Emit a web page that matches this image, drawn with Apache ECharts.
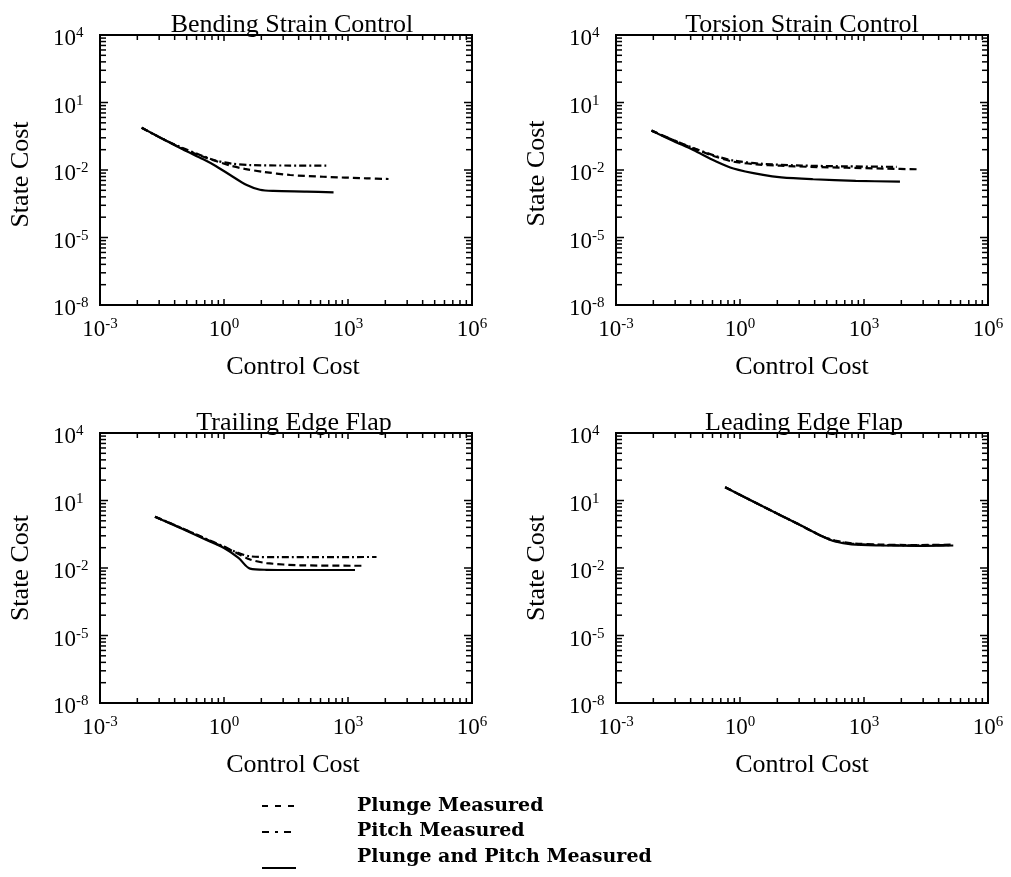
<!DOCTYPE html>
<html><head><meta charset="utf-8">
<script src="https://cdn.jsdelivr.net/npm/echarts@6/dist/echarts.min.js"></script>
<style>html,body{margin:0;padding:0;background:#fff}#c{width:1011px;height:877px}</style>
</head><body><div id="c"></div>
<script>
// ---------------- data ----------------
const panelTitles = ['Bending Strain Control', 'Torsion Strain Control', 'Trailing Edge Flap', 'Leading Edge Flap'];
const seriesNames = ['Plunge Measured', 'Pitch Measured', 'Plunge and Pitch Measured'];
const xAxisName = 'Control Cost';
const yAxisName = 'State Cost';
const xLabelExponents = [-3, 0, 3, 6];
const yLabelExponents = [-8, -5, -2, 1, 4];
// minor ticks: k = 1..9 placed at k^3 inside each 3-decade segment
const tickFactors = [1, 2, 3, 4, 5, 6, 7, 8, 9];

// Bending Strain Control
const bendingPlunge = [[0.0102,0.76],[0.0316,0.25],[0.1,0.089],[0.263,0.0437],[0.631,0.0251],[1.41,0.0158],[3.16,0.0112],[8.91,0.0083],[39.8,0.0060],[251,0.0050],[2818,0.00427],[9550,0.00398]];
const bendingPitch = [[0.0102,0.76],[0.0316,0.25],[0.1,0.0955],[0.263,0.0468],[0.631,0.0263],[1.58,0.0191],[4.27,0.0166],[39.8,0.0158],[316,0.0158]];
const bendingBoth = [[0.0102,0.76],[0.0316,0.25],[0.1,0.083],[0.316,0.030],[0.631,0.0151],[1.41,0.0060],[3.55,0.00214],[7.41,0.00132],[15.8,0.00117],[100,0.0011],[447,0.00102]];

// Torsion Strain Control
const torsionPlunge = [[0.00724,0.562],[0.0251,0.209],[0.0741,0.0912],[0.251,0.0398],[0.692,0.0234],[2.51,0.0178],[9.33,0.0155],[50.1,0.0138],[380,0.0126],[3162,0.0115],[22900,0.0107]];
const torsionPitch = [[0.00724,0.562],[0.0251,0.209],[0.0741,0.0955],[0.251,0.0427],[0.692,0.0263],[3.16,0.0191],[31.6,0.0158],[398,0.0145],[6166,0.0138]];
const torsionBoth = [[0.00724,0.562],[0.0251,0.191],[0.0741,0.0776],[0.251,0.0251],[0.692,0.0117],[3.63,0.00603],[10,0.00468],[58.9,0.00389],[631,0.00331],[7413,0.00302]];

// Trailing Edge Flap
const trailingPlunge = [[0.0214,1.91],[0.1,0.562],[0.316,0.219],[1,0.0832],[1.70,0.055],[4.27,0.024],[10.7,0.0166],[69.2,0.0132],[2138,0.0126]];
const trailingPitch = [[0.0214,1.91],[0.1,0.575],[0.316,0.224],[1,0.0891],[2.0,0.0501],[4.27,0.0331],[20,0.0302],[4898,0.0309]];
const trailingBoth = [[0.0214,1.91],[0.1,0.537],[0.316,0.204],[1,0.0776],[2.24,0.0282],[4.27,0.00933],[10.7,0.00832],[100,0.00813],[1479,0.00813]];

// Leading Edge Flap
const leadingPlunge = [[0.437,38.9],[3.63,5.37],[23.4,0.977],[100,0.251],[200,0.166],[501,0.126],[2455,0.110],[19950,0.105],[151400,0.110]];
const leadingPitch = [[0.437,38.9],[3.63,5.37],[23.4,0.977],[100,0.251],[200,0.158],[501,0.120],[2455,0.105],[19950,0.102],[125900,0.105]];
const leadingBoth = [[0.437,38.9],[3.63,5.37],[23.4,0.977],[100,0.251],[200,0.151],[501,0.112],[2455,0.1],[19950,0.0955],[144500,0.1]];

const panelData = [
  [bendingPlunge, bendingPitch, bendingBoth],
  [torsionPlunge, torsionPitch, torsionBoth],
  [trailingPlunge, trailingPitch, trailingBoth],
  [leadingPlunge, leadingPitch, leadingBoth]
];

// ---------------- layout / style ----------------
const SERIF = '"Liberation Serif", "Times New Roman", serif';
const LEGEND_FONT = '"DejaVu Serif", serif';
const grids = [
  {left: 100, top: 35, width: 372, height: 270},
  {left: 616, top: 35, width: 372, height: 270},
  {left: 100, top: 433, width: 372, height: 270},
  {left: 616, top: 433, width: 372, height: 270}
];
const titlePos = [[292, 25], [802, 25], [294, 423], [804, 423]];
const xNamePad = [[0,0,0,14],[0,0,0,0],[0,0,0,14],[0,0,0,0]];
const yNamePad = [[0,9,0,0],[0,7,0,0],[0,0,0,0],[0,0,0,0]];
const lineTypes = [[7, 4], [7, 3, 2, 3], 'solid'];
const legendDash = [[6, 7], [7, 6, 3, 6], null];
const legendIconY = [806, 832, 868];
const legendTextY = [806, 831, 857];

function buildTicks(exps) {
  const out = [];
  for (let i = 0; i < exps.length - 1; i++) {
    tickFactors.forEach(k => out.push([Math.pow(10, exps[i]) * k * k * k, k === 1 ? 1 : 0]));
  }
  out.push([Math.pow(10, exps[exps.length - 1]), 1]);
  return out;
}
const xTicks = buildTicks(xLabelExponents);
const yTicks = buildTicks(yLabelExponents);

function labelFmt(exps) {
  return function (v) {
    const e = Math.round(Math.log10(v));
    if (exps.indexOf(e) < 0) return '';
    return '{b|10}{s|' + e + '}';
  };
}
const richLabel = {
  b: {fontFamily: SERIF, fontSize: 23, color: '#000', lineHeight: 26},
  s: {fontFamily: SERIF, fontSize: 15, color: '#000', verticalAlign: 'top', lineHeight: 15}
};

const xAxes = [], yAxes = [], series = [], titles = [];
grids.forEach((g, i) => {
  titles.push({text: panelTitles[i], left: titlePos[i][0], top: titlePos[i][1], padding: 0,
    textAlign: 'center', textVerticalAlign: 'middle',
    textStyle: {fontFamily: SERIF, fontSize: 26, fontWeight: 'normal', color: '#000'}});
  xAxes.push({type: 'log', logBase: 10, gridIndex: i, min: 1e-3, max: 1e6, interval: 3,
    name: xAxisName, nameLocation: 'middle', nameGap: 62,
    nameTextStyle: {fontFamily: SERIF, fontSize: 26, color: '#000', verticalAlign: 'middle', padding: xNamePad[i]},
    axisLine: {show: false}, axisTick: {show: false}, splitLine: {show: false}, minorTick: {show: false},
    axisLabel: {formatter: labelFmt(xLabelExponents), rich: richLabel, margin: 12, showMinLabel: true, showMaxLabel: true, hideOverlap: false}});
  yAxes.push({type: 'log', logBase: 10, gridIndex: i, min: 1e-8, max: 1e4, interval: 3,
    name: yAxisName, nameLocation: 'middle', nameGap: 79,
    nameTextStyle: {fontFamily: SERIF, fontSize: 26, color: '#000', verticalAlign: 'middle', padding: yNamePad[i]},
    axisLine: {show: false}, axisTick: {show: false}, splitLine: {show: false}, minorTick: {show: false},
    axisLabel: {formatter: labelFmt(yLabelExponents), rich: richLabel, align: 'left', margin: 47, padding: [8, 0, 0, 0], showMinLabel: true, showMaxLabel: true, hideOverlap: false}});
  panelData[i].forEach((d, s) => {
    series.push({name: seriesNames[s], type: 'line', xAxisIndex: i, yAxisIndex: i, data: d,
      symbol: 'none', smooth: 0.3, z: 3 + s,
      lineStyle: {color: '#000', width: 2.2, type: lineTypes[s]},
      itemStyle: {color: '#000'}});
  });
  const tickData = xTicks.map(t => [t[0], 1e-8, 0, t[1]]).concat(yTicks.map(t => [1e-3, t[0], 1, t[1]]));
  series.push({type: 'custom', xAxisIndex: i, yAxisIndex: i, data: tickData, silent: true, z: 10,
    encode: {x: 0, y: 1},
    renderItem: function (params, api) {
      const cs = params.coordSys;
      const p = api.coord([api.value(0), api.value(1)]);
      const kind = api.value(2), major = api.value(3);
      const st = {stroke: '#000', lineWidth: 1.5};
      if (kind === 0) {
        const len = major ? 6 : 5;
        return {type: 'group', children: [
          {type: 'line', shape: {x1: p[0], y1: cs.y + cs.height, x2: p[0], y2: cs.y + cs.height - len}, style: st},
          {type: 'line', shape: {x1: p[0], y1: cs.y, x2: p[0], y2: cs.y + len}, style: st}
        ]};
      }
      const len = major ? 8 : 6;
      return {type: 'group', children: [
        {type: 'line', shape: {x1: cs.x, y1: p[1], x2: cs.x + len, y2: p[1]}, style: st},
        {type: 'line', shape: {x1: cs.x + cs.width, y1: p[1], x2: cs.x + cs.width - len, y2: p[1]}, style: st}
      ]};
    }});
});

// legend (drawn as graphic: line sample + label)
const legendGraphic = [];
seriesNames.forEach((nm, s) => {
  const ls = {stroke: '#000', lineWidth: 2};
  if (legendDash[s]) ls.lineDash = legendDash[s];
  legendGraphic.push({type: 'line', shape: {x1: 262, y1: legendIconY[s], x2: 296, y2: legendIconY[s]}, style: ls, silent: true});
  legendGraphic.push({type: 'text', x: 357, y: legendTextY[s], silent: true,
    style: {text: nm, fill: '#000', font: 'bold 19px ' + LEGEND_FONT, textVerticalAlign: 'middle', verticalAlign: 'middle', textAlign: 'left', align: 'left'}});
});

const chart = echarts.init(document.getElementById('c'), null, {renderer: 'canvas'});
chart.setOption({
  backgroundColor: '#fff',
  animation: false,
  title: titles,
  grid: grids.map(g => Object.assign({show: true, borderColor: '#000', borderWidth: 2, backgroundColor: 'transparent', containLabel: false, outerBoundsMode: 'none'}, g)),
  xAxis: xAxes,
  yAxis: yAxes,
  graphic: legendGraphic,
  series: series
});
</script>
</body></html>
